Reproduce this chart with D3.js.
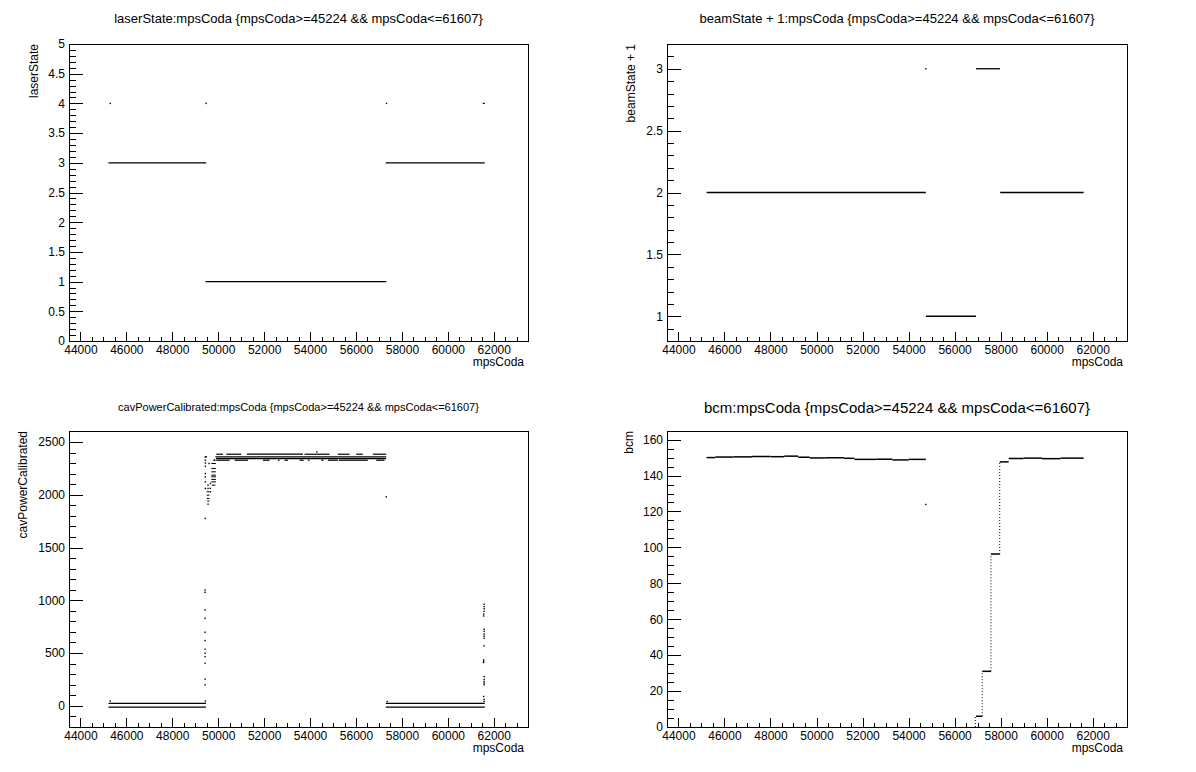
<!DOCTYPE html>
<html><head><meta charset="utf-8">
<script src="https://cdn.jsdelivr.net/npm/d3@7"></script>
<style>
body{margin:0;background:#fff;}
svg text{font-family:"Liberation Sans",Arial,Helvetica,sans-serif;fill:#000;}
</style>
</head><body>
<svg id="c" width="1196" height="772"></svg>
<script>
// ---------- shared axis data ----------
const xLabelValues = [44000,46000,48000,50000,52000,54000,56000,58000,60000,62000];
const xDomain = [43504, 63490];
const xTitle = "mpsCoda";
const cutText = "{mpsCoda>=45224 && mpsCoda<=61607}";

// ---------- panel 1 : laserState ----------
const laserYTicks = [0,0.5,1,1.5,2,2.5,3,3.5,4,4.5,5];
const laserSegments = [[45224,49480,3],[49450,57320,1],[57290,61607,3],[61520,61607,4]]; // [from, to, value]
const laserPoints = [[45300,4],[49470,4],[57330,4]];

// ---------- panel 2 : beamState + 1 ----------
const beamYTicks = [1,1.5,2,2.5,3];
const beamSegments = [[45224,54750,2],[54750,56930,1],[56930,57970,3],[57980,61607,2]];
const beamPoints = [[54750,3]];

// ---------- panel 3 : cavPowerCalibrated ----------
const cavYTicks = [0,500,1000,1500,2000,2500];
const cavLowLines = [[45224,49470,22],[45224,49470,-12],[57300,61607,22],[57300,61607,-12]];
const cavHighLines = [[49880,57316,2358],[49900,57316,2343]];
const cavTopDashes = [[49918,50207,2384],[50352,51006,2384],[51250,53688,2384],[53761,54849,2384],[55212,55720,2384],[56010,56298,2384],[56734,57316,2384]];
const cavLowerDashes = [[49918,50497,2327],[50715,51295,2327],[51947,52238,2327],[52600,52673,2327],[52890,53035,2327],[53543,53718,2327],[53906,53979,2327],[54487,54588,2327],[54777,55212,2327],[55255,56515,2327],[56881,57242,2327]];
const cavRampDashes = [[49500,49620,2028],[49500,49620,1996],[49500,49620,1965],[49520,49620,1940],[49520,49600,1911],
  [49700,49900,2296],[49700,49900,2249],[49700,49900,2217],[49700,49900,2186],[49700,49900,2170],[49700,49900,2145],[49700,49900,2122],[49720,49880,2091]];
const cavPoints = [[49440,2358],[49440,2327],[49440,2300],[49440,2270],[49440,2201],[49440,2170],[49440,2122],[49440,2060],[49440,1776],
  [49480,2360],[49600,2296],[49560,2090],[49560,2060],[49660,2107],[49660,2060],[49660,2028],[49820,2327],[49850,2327],
  [49430,1097],[49430,1075],[49430,908],[49430,830],[49430,697],[49430,618],[49430,536],[49430,498],[49430,466],[49430,404],[49430,252],[49430,199],[49440,45],
  [54296,2406],[57316,1980],[45300,45],[57360,40],
  [61580,962],[61580,940],[61580,920],[61580,895],[61560,870],[61560,851],[61580,725],[61580,705],[61580,680],[61580,660],[61580,640],[61580,568],
  [61560,435],[61560,420],[61550,410],[61580,277],[61580,250],[61580,230],[61580,215],[61580,199],[61560,88],[61580,60],[61580,41]];

// ---------- panel 4 : bcm ----------
const bcmYTicks = [0,20,40,60,80,100,120,140,160];
const bcmSteps = [[45224,45600,150.0],[45600,46400,150.3],[46400,47200,150.4],[47200,48000,150.6],[48000,48600,150.5],[48600,49200,150.8],
  [49200,49700,150.2],[49700,50400,149.8],[50400,51200,149.9],[51200,51650,149.6],[51650,52600,149.0],[52600,53300,149.1],[53300,54000,148.7],[54000,54750,149.0],
  [56930,57200,6],[57200,57580,31],[57580,57960,96.3],[57960,58350,147.6],
  [58350,59000,149.5],[59000,59800,149.7],[59800,60600,149.4],[60600,61607,149.7]];
const bcmRisers = [[56900,0,6],[57200,6,31],[57580,31,96.3],[57960,96.3,147.6]]; // [x, from, to]
const bcmPoints = [[54750,123.9]];

// ---------- drawing ----------
const svg = d3.select("#c");
const fmt = d => String(d);

function panel(cfg) {
  const g = svg.append("g");
  const x = d3.scaleLinear().domain(xDomain).range([cfg.l, cfg.r]);
  const y = d3.scaleLinear().domain(cfg.yDomain).range([cfg.b, cfg.t]);
  const W = cfg.r - cfg.l, H = cfg.b - cfg.t;

  // x axis majors + minors
  const xMinor = d3.range(43500, 63600, 500).filter(v => v >= xDomain[0] && v <= xDomain[1] && !xLabelValues.includes(v));
  const xa = g.append("g").attr("transform", `translate(0,${cfg.b})`)
    .call(d3.axisBottom(x).tickValues(xLabelValues).tickFormat(fmt).tickSizeInner(-9).tickSizeOuter(0).tickPadding(4));
  xa.select(".domain").remove();
  xa.selectAll("text").attr("font-size", 12).attr("font-family", null);
  const xm = g.append("g").attr("transform", `translate(0,${cfg.b})`)
    .call(d3.axisBottom(x).tickValues(xMinor).tickFormat("").tickSizeInner(-4.5).tickSizeOuter(0));
  xm.select(".domain").remove();

  // y axis
  const ya = g.append("g").attr("transform", `translate(${cfg.l},0)`)
    .call(d3.axisLeft(y).tickValues(cfg.yTicks).tickFormat(fmt).tickSizeInner(-14).tickSizeOuter(0).tickPadding(4));
  ya.select(".domain").remove();
  ya.selectAll("text").attr("font-size", 12).attr("font-family", null);
  const ym = g.append("g").attr("transform", `translate(${cfg.l},0)`)
    .call(d3.axisLeft(y).tickValues(cfg.yMinor).tickFormat("").tickSizeInner(-7).tickSizeOuter(0));
  ym.select(".domain").remove();
  g.selectAll(".tick line").attr("stroke", "#000").attr("shape-rendering", "crispEdges");

  // frame
  g.append("rect").attr("x", cfg.l).attr("y", cfg.t).attr("width", W).attr("height", H)
    .attr("fill", "none").attr("stroke", "#000").attr("stroke-width", 1).attr("shape-rendering", "crispEdges");

  // titles
  g.append("text").attr("x", (cfg.l + cfg.r) / 2).attr("y", cfg.titleY).attr("text-anchor", "middle")
    .attr("font-size", cfg.titleSize).text(cfg.title);
  g.append("text").attr("x", cfg.r - 4).attr("y", cfg.b + 25).attr("text-anchor", "end")
    .attr("font-size", 12).text(xTitle);
  g.append("text").attr("transform", `translate(${cfg.yTitleX},${cfg.t}) rotate(-90)`).attr("text-anchor", "end")
    .attr("font-size", 12).text(cfg.yTitle);

  const data = g.append("g");
  (cfg.segments || []).forEach(seg => {
    data.selectAll(null).data(seg.rows).join("line")
      .attr("x1", d => x(d[0])).attr("x2", d => x(d[1]))
      .attr("y1", d => y(d[2])).attr("y2", d => y(d[2]))
      .attr("stroke", "#000").attr("stroke-width", seg.w || 1.2);
  });
  (cfg.risers || []).forEach(rows => {
    data.selectAll(null).data(rows).join("line")
      .attr("x1", d => x(d[0])).attr("x2", d => x(d[0]))
      .attr("y1", d => y(d[1])).attr("y2", d => y(d[2]))
      .attr("stroke", "#000").attr("stroke-width", 1).attr("stroke-dasharray", "1,2");
  });
  (cfg.points || []).forEach(rows => {
    data.selectAll(null).data(rows).join("rect")
      .attr("x", d => x(d[0]) - 0.7).attr("y", d => y(d[1]) - 0.7)
      .attr("width", 1.4).attr("height", 1.4).attr("fill", "#000");
  });
}

const minorRange = (a, b, s) => d3.range(a, b + s / 2, s).map(v => +v.toFixed(6));

panel({l:69, r:528, t:44, b:341, yDomain:[0,5], yTicks:laserYTicks,
  yMinor: minorRange(0,5,0.1).filter(v => !laserYTicks.includes(v)),
  title: "laserState:mpsCoda " + cutText, titleY: 23, titleSize: 13, yTitle: "laserState", yTitleX: 38,
  segments:[{rows:laserSegments, w:1.3}], points:[laserPoints]});

panel({l:667, r:1127, t:44, b:341, yDomain:[0.8,3.2], yTicks:beamYTicks,
  yMinor: minorRange(0.8,3.2,0.1).filter(v => !beamYTicks.includes(v)),
  title: "beamState + 1:mpsCoda " + cutText, titleY: 23, titleSize: 13, yTitle: "beamState + 1", yTitleX: 635,
  segments:[{rows:beamSegments, w:1.3}], points:[beamPoints]});

panel({l:69, r:528, t:431, b:727, yDomain:[-201,2604], yTicks:cavYTicks,
  yMinor: minorRange(-200,2600,100).filter(v => !cavYTicks.includes(v)),
  title: "cavPowerCalibrated:mpsCoda " + cutText, titleY: 411, titleSize: 11, yTitle: "cavPowerCalibrated", yTitleX: 27,
  segments:[{rows:cavLowLines, w:1.3},{rows:cavHighLines, w:1.2},{rows:cavTopDashes, w:1.2},{rows:cavLowerDashes, w:1.2},{rows:cavRampDashes, w:1}],
  points:[cavPoints]});

panel({l:667, r:1127, t:431, b:727, yDomain:[0,164.8], yTicks:bcmYTicks,
  yMinor: minorRange(0,160,5).filter(v => !bcmYTicks.includes(v)),
  title: "bcm:mpsCoda " + cutText, titleY: 413, titleSize: 15, yTitle: "bcm", yTitleX: 633,
  segments:[{rows:bcmSteps, w:1.5}], risers:[bcmRisers], points:[bcmPoints]});
</script>
</body></html>
